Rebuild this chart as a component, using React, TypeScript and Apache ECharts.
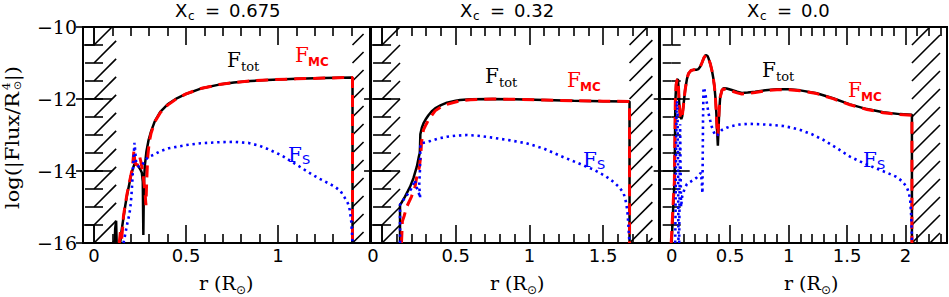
import React, { useEffect, useRef } from "react";
import * as echarts from "echarts";

// ---------------- data (r in R_sun, value = log|Flux/R^4|) ----------------
const yRange = [-16, -10];
const yMajorTicks = [-16, -14, -12, -10];
const yMinorTicks = [-16, -15.5, -15, -14.5, -14, -13.5, -13, -12.5, -12, -11.5, -11, -10.5, -10];
const hatchStep = 0.5;

const titles = ["0.675", "0.32", "0.0"];

const xRange1 = [-0.06, 1.5];
const xRange2 = [-0.075, 1.88];
const xRange3 = [-0.1, 2.355];

const xLabels1 = [0, 0.5, 1];
const xLabels2 = [0, 0.5, 1, 1.5];
const xLabels3 = [0, 0.5, 1, 1.5, 2];
const xMajor1 = [0, 0.5, 1, 1.5];
const xMajor2 = [0, 0.5, 1, 1.5];
const xMajor3 = [0, 0.5, 1, 1.5, 2];
const xMinor1 = [0.1, 0.2, 0.3, 0.4, 0.6, 0.7, 0.8, 0.9, 1.1, 1.2, 1.3, 1.4];
const xMinor2 = [0.1, 0.2, 0.3, 0.4, 0.6, 0.7, 0.8, 0.9, 1.1, 1.2, 1.3, 1.4, 1.6, 1.7, 1.8];
const xMinor3 = [0.1, 0.2, 0.3, 0.4, 0.6, 0.7, 0.8, 0.9, 1.1, 1.2, 1.3, 1.4, 1.6, 1.7, 1.8, 1.9, 2.1, 2.2, 2.3];

// hatched (excluded) radial zones [r0, r1]
const hatch1 = [[0, 0.12], [1.405, 1.465]];
const hatch2 = [[0, 0.122], [1.68, 1.835]];
const hatch3 = [[2.055, 2.295]];
// small corner boxes [r0, r1, y0, y1]
const boxes1 = [[-0.06, 0, -10.5, -10], [-0.06, 0, -16, -15.5]];
const boxes2 = [[-0.075, 0, -10.5, -10], [-0.075, 0, -16, -15.5]];
const boxes3: number[][] = [];

const fTot1: any[] = [
  [0.112, -16], [0.115, -15.6], [0.12, -15.38], [0.123, -16], [0.13, "-"],
  [0.142, -16], [0.15, -15.65], [0.16, -15.3], [0.17, -14.95], [0.18, -14.65], [0.19, -14.4],
  [0.2, -14.15], [0.21, -13.95], [0.218, -13.83], [0.224, -13.8], [0.232, -13.82], [0.242, -13.88],
  [0.252, -13.96], [0.26, -14.05], [0.265, -14.3], [0.268, -15.78], [0.271, -14.4], [0.276, -13.85],
  [0.285, -13.45], [0.296, -13.15], [0.31, -12.9], [0.33, -12.62], [0.36, -12.36], [0.4, -12.15],
  [0.45, -11.98], [0.5, -11.86], [0.58, -11.71], [0.68, -11.6], [0.76, -11.54], [0.85, -11.5],
  [0.94, -11.47], [1.1, -11.44], [1.25, -11.42], [1.405, -11.4], [1.405, -16],
];
const fMC1: any[] = [
  [0.137, -16], [0.143, -15.7], [0.15, -15.9], [0.155, -15.6], [0.16, -15.25], [0.17, -14.92],
  [0.18, -14.62], [0.19, -14.37], [0.2, -14.13], [0.208, -13.92], [0.214, -13.6], [0.217, -13.42],
  [0.221, -13.7], [0.228, -13.83], [0.236, -13.82], [0.243, -13.64], [0.249, -13.62], [0.255, -13.75],
  [0.262, -13.95], [0.27, -14.25], [0.278, -14.65], [0.282, -14.95], [0.286, -14.3], [0.292, -13.6],
  [0.3, -13.2], [0.31, -12.95], [0.33, -12.64], [0.36, -12.38], [0.4, -12.17], [0.45, -11.99],
  [0.5, -11.86], [0.58, -11.71], [0.68, -11.6], [0.76, -11.54], [0.85, -11.5], [0.94, -11.47],
  [1.1, -11.44], [1.25, -11.42], [1.405, -11.4], [1.405, -16],
];
const fS1: any[] = [
  [0.16, -16], [0.17, -15.75], [0.179, -15.5], [0.19, -15.25], [0.197, -15.04], [0.203, -14.7],
  [0.208, -14.3], [0.213, -13.8], [0.217, -13.45], [0.22, -13.22], [0.224, -13.45], [0.228, -13.72],
  [0.235, -13.85], [0.245, -13.88], [0.26, -13.85], [0.279, -13.69], [0.3, -13.6], [0.324, -13.55],
  [0.36, -13.45], [0.406, -13.37], [0.5, -13.28], [0.58, -13.23], [0.68, -13.2], [0.76, -13.19],
  [0.84, -13.22], [0.9, -13.3], [0.94, -13.38], [1.0, -13.52], [1.03, -13.6], [1.08, -13.76],
  [1.13, -13.92], [1.18, -14.08], [1.22, -14.2], [1.27, -14.33], [1.31, -14.44], [1.34, -14.56],
  [1.36, -14.72], [1.38, -14.9], [1.39, -15.08], [1.398, -15.4], [1.403, -15.8], [1.405, -16],
];

const fTot2: any[] = [
  [0.122, -16], [0.122, -14.94], [0.135, -14.86], [0.156, -14.71], [0.175, -14.56], [0.19, -14.44],
  [0.213, -14.2], [0.236, -13.88], [0.25, -13.6], [0.256, -13.5], [0.258, -13.3], [0.26, -12.98],
  [0.27, -12.8], [0.281, -12.68], [0.3, -12.54], [0.315, -12.45], [0.34, -12.33], [0.36, -12.26],
  [0.4, -12.17], [0.44, -12.1], [0.5, -12.05], [0.53, -12.03], [0.6, -12.01], [0.75, -12.0],
  [0.9, -12.01], [1.1, -12.03], [1.3, -12.05], [1.5, -12.06], [1.68, -12.07], [1.68, -16],
];
const fMC2: any[] = [
  [0.132, -16], [0.135, -15.7], [0.138, -15.4], [0.15, -15.25], [0.168, -14.99], [0.2, -14.71],
  [0.224, -14.44], [0.236, -14.15], [0.247, -14.0], [0.254, -13.88], [0.263, -13.56], [0.268, -13.2],
  [0.281, -12.86], [0.3, -12.7], [0.315, -12.58], [0.36, -12.33], [0.4, -12.22], [0.44, -12.15],
  [0.53, -12.05], [0.6, -12.02], [0.75, -12.0], [0.9, -12.01], [1.1, -12.03], [1.3, -12.05],
  [1.5, -12.06], [1.68, -12.07], [1.68, -16],
];
const fS2: any[] = [
  [0.122, -16], [0.122, -14.94], [0.14, -14.83], [0.163, -14.71], [0.18, -14.6], [0.197, -14.5],
  [0.212, -14.36], [0.222, -14.25], [0.235, -14.45], [0.25, -14.62], [0.259, -14.75], [0.252, -14.4],
  [0.257, -14.0], [0.259, -13.6], [0.26, -13.25], [0.275, -13.22], [0.3, -13.2], [0.327, -13.17],
  [0.38, -13.1], [0.44, -13.05], [0.5, -13.02], [0.576, -13.0], [0.65, -13.02], [0.76, -13.08],
  [0.87, -13.15], [0.98, -13.23], [1.1, -13.38], [1.21, -13.58], [1.33, -13.78], [1.44, -13.97],
  [1.52, -14.15], [1.57, -14.3], [1.61, -14.45], [1.64, -14.62], [1.655, -14.85], [1.665, -15.1],
  [1.672, -15.5], [1.678, -15.9], [1.68, -16],
];

const fTot3: any[] = [
  [0.0, -16], [0.01, -15.2], [0.018, -14.7], [0.024, -14.3], [0.028, -13.2], [0.031, -12.1],
  [0.038, -11.6], [0.047, -11.47], [0.053, -11.45], [0.058, -11.65], [0.064, -12.1], [0.072, -12.45],
  [0.082, -12.56], [0.09, -12.48], [0.1, -12.2], [0.115, -11.75], [0.13, -11.45], [0.144, -11.29],
  [0.165, -11.21], [0.186, -11.19], [0.21, -11.19], [0.229, -11.17], [0.245, -11.1], [0.258, -11.0],
  [0.275, -10.86], [0.292, -10.78], [0.305, -10.8], [0.315, -10.87], [0.33, -11.02], [0.343, -11.19],
  [0.355, -11.4], [0.366, -11.66], [0.375, -12.0], [0.382, -12.4], [0.388, -12.85], [0.395, -13.3],
  [0.4, -12.9], [0.407, -12.3], [0.415, -11.95], [0.43, -11.75], [0.443, -11.7], [0.47, -11.71],
  [0.514, -11.75], [0.56, -11.8], [0.6, -11.83], [0.65, -11.82], [0.714, -11.8], [0.8, -11.76],
  [0.9, -11.73], [1.0, -11.73], [1.1, -11.76], [1.24, -11.84], [1.38, -11.98], [1.525, -12.15],
  [1.67, -12.28], [1.81, -12.37], [1.95, -12.42], [2.055, -12.44], [2.055, -16],
];
const fMC3: any[] = [
  [-0.004, -16], [0.008, -15.2], [0.016, -14.7], [0.023, -14.3], [0.027, -13.2], [0.031, -12.1],
  [0.038, -11.6], [0.047, -11.47], [0.053, -11.45], [0.058, -11.65], [0.064, -12.1], [0.072, -12.45],
  [0.082, -12.56], [0.09, -12.48], [0.1, -12.2], [0.115, -11.75], [0.13, -11.45], [0.144, -11.29],
  [0.165, -11.21], [0.186, -11.19], [0.21, -11.19], [0.229, -11.17], [0.245, -11.1], [0.258, -11.0],
  [0.275, -10.86], [0.292, -10.78], [0.305, -10.8], [0.315, -10.87], [0.33, -11.02], [0.343, -11.19],
  [0.355, -11.4], [0.366, -11.66], [0.375, -12.0], [0.382, -12.4], [0.389, -12.85], [0.394, -13.02],
  [0.4, -12.7], [0.407, -12.25], [0.415, -11.95], [0.43, -11.76], [0.443, -11.72], [0.47, -11.74],
  [0.514, -11.78], [0.56, -11.83], [0.6, -11.86], [0.65, -11.85], [0.714, -11.82], [0.8, -11.77],
  [0.9, -11.74], [1.0, -11.74], [1.1, -11.77], [1.24, -11.85], [1.38, -11.99], [1.525, -12.16],
  [1.67, -12.29], [1.81, -12.38], [1.95, -12.43], [2.055, -12.45], [2.055, -16],
];
const fS3: any[] = [
  [0.03, -16], [0.034, -14.8], [0.038, -13.3], [0.042, -12.3], [0.046, -12.05], [0.05, -12.4],
  [0.054, -13.8], [0.058, -16], [0.062, "-"], [0.064, -16], [0.068, -14.4], [0.072, -12.7],
  [0.076, -13.9], [0.08, -15.0], [0.09, -14.7], [0.11, -14.5], [0.13, -14.36], [0.16, -14.3],
  [0.19, -14.24], [0.215, -14.18], [0.235, -14.1], [0.25, -14.05], [0.258, -14.35], [0.263, -14.62],
  [0.265, -13.8], [0.268, -12.6], [0.272, -11.72], [0.277, -11.68], [0.285, -11.82], [0.292, -11.94],
  [0.303, -12.15], [0.315, -12.4], [0.33, -12.6], [0.343, -12.77], [0.36, -12.92], [0.372, -13.0],
  [0.386, -13.03], [0.4, -12.97], [0.43, -12.86], [0.47, -12.8], [0.514, -12.75], [0.58, -12.71],
  [0.656, -12.69], [0.75, -12.7], [0.85, -12.72], [0.955, -12.75], [1.03, -12.8], [1.1, -12.86],
  [1.2, -12.98], [1.3, -13.14], [1.41, -13.36], [1.525, -13.6], [1.64, -13.78], [1.75, -13.93],
  [1.85, -14.06], [1.92, -14.16], [1.97, -14.28], [2.01, -14.44], [2.03, -14.62], [2.04, -14.8],
  [2.048, -15.2], [2.053, -15.6], [2.055, -16],
];

// ---------------- layout ----------------
const GRID_TOP = 27;
const GRID_H = 216;
const layout = [
  { left: 83, width: 287, title: 175, xname: 227 },
  { left: 371, width: 288, title: 460, xname: 518 },
  { left: 660, width: 287, title: 747, xname: 812 },
];
const fLabelPos = [
  { tot: [227, 60], mc: [295, 55], s: [288, 155] },
  { tot: [485, 76], mc: [567, 80], s: [583, 160] },
  { tot: [762, 70], mc: [848, 90], s: [863, 160] },
];

const panels = [
  { xr: xRange1, xl: xLabels1, xM: xMajor1, xm: xMinor1, hatch: hatch1, boxes: boxes1, tot: fTot1, mc: fMC1, s: fS1 },
  { xr: xRange2, xl: xLabels2, xM: xMajor2, xm: xMinor2, hatch: hatch2, boxes: boxes2, tot: fTot2, mc: fMC2, s: fS2 },
  { xr: xRange3, xl: xLabels3, xM: xMajor3, xm: xMinor3, hatch: hatch3, boxes: boxes3, tot: fTot3, mc: fMC3, s: fS3 },
];

const INK = "#000";
const RED = "#ff0000";
const BLUE = "#0000ff";
const SERIF = '"DejaVu Serif", "Liberation Serif", serif';
const SANS = '"DejaVu Sans", "Liberation Sans", sans-serif';

function hatchRender(params: any, api: any) {
  const x0 = api.value(0);
  const x1 = api.value(1);
  const p0 = api.coord([x0, yRange[0]]);
  const p1 = api.coord([x1, yRange[1]]);
  const pStep = api.coord([x0, yRange[0] + hatchStep]);
  const left = p0[0], right = p1[0], bottom = p0[1], top = p1[1];
  const s = Math.abs(bottom - pStep[1]);
  const w = right - left;
  const H = bottom - top;
  const children: any[] = [];
  for (let k = -Math.ceil(w / s) - 1; k <= Math.floor(H / s) + 1; k++) {
    const tmin = Math.max(0, -k * s);
    const tmax = Math.min(w, H - k * s);
    if (tmax - tmin < 0.5) continue;
    children.push({
      type: "line",
      shape: { x1: left + tmin, y1: bottom - k * s - tmin, x2: left + tmax, y2: bottom - k * s - tmax },
      style: { stroke: INK, lineWidth: 1.6 },
    });
  }
  return { type: "group", children };
}

function boxRender(params: any, api: any) {
  const a = api.coord([api.value(0), api.value(3)]);
  const b = api.coord([api.value(1), api.value(2)]);
  return {
    type: "rect",
    shape: { x: a[0], y: a[1], width: b[0] - a[0], height: b[1] - a[1] },
    style: { fill: "none", stroke: INK, lineWidth: 1.6 },
  };
}

const txt = (x: number, y: number, text: string, font: string, fill = INK, align = "left") => ({
  type: "text",
  x,
  y,
  silent: true,
  style: { text, font, fill, align, verticalAlign: "middle" },
});

function buildOption() {
  const grid: any[] = [];
  const xAxis: any[] = [];
  const yAxis: any[] = [];
  const series: any[] = [];
  const graphic: any[] = [];

  panels.forEach((p, i) => {
    const L = layout[i];
    grid.push({
      left: L.left, top: GRID_TOP, width: L.width, height: GRID_H,
      show: true, borderColor: INK, borderWidth: 2, backgroundColor: "rgba(0,0,0,0)",
    });
    const tickStyle = { color: INK, width: 1.6 };
    const baseX = {
      type: "value", gridIndex: i, min: p.xr[0], max: p.xr[1],
      axisLine: { show: false }, splitLine: { show: false }, axisLabel: { show: false },
    };
    const xi = xAxis.length;
    xAxis.push({
      ...baseX, position: "bottom",
      axisTick: { show: true, inside: true, length: 18, customValues: p.xM, lineStyle: tickStyle },
      axisLabel: {
        show: true, customValues: p.xl, margin: 3, color: INK, fontSize: 18, fontFamily: SANS,
        formatter: (v: number) => (i === 1 && v === 0 ? "{z|0}" : String(v)),
        rich: { z: { padding: [0, 18, 0, 0], fontSize: 18, fontFamily: SANS, color: INK } },
      },
    });
    xAxis.push({ ...baseX, position: "bottom", axisTick: { show: true, inside: true, length: 9, customValues: p.xm, lineStyle: tickStyle } });
    xAxis.push({ ...baseX, position: "top", axisTick: { show: true, inside: true, length: 18, customValues: p.xM, lineStyle: tickStyle } });
    xAxis.push({ ...baseX, position: "top", axisTick: { show: true, inside: true, length: 9, customValues: p.xm, lineStyle: tickStyle } });

    const baseY = {
      type: "value", gridIndex: i, min: yRange[0], max: yRange[1],
      axisLine: { show: false }, splitLine: { show: false }, axisLabel: { show: false },
    };
    const yi = yAxis.length;
    yAxis.push({
      ...baseY, position: "left",
      axisTick: { show: true, inside: true, length: 18, customValues: yMajorTicks, lineStyle: tickStyle },
      axisLabel: {
        show: i === 0, customValues: yMajorTicks, margin: 6, color: INK, fontSize: 19, fontFamily: SERIF,
        formatter: (v: number) => (v < 0 ? "\u2212" + String(-v) : String(v)),
      },
    });
    yAxis.push({ ...baseY, position: "left", axisTick: { show: true, inside: true, length: 9, customValues: yMinorTicks, lineStyle: tickStyle } });
    yAxis.push({ ...baseY, position: "right", axisTick: { show: true, inside: true, length: 18, customValues: yMajorTicks, lineStyle: tickStyle } });
    yAxis.push({ ...baseY, position: "right", axisTick: { show: true, inside: true, length: 9, customValues: yMinorTicks, lineStyle: tickStyle } });

    series.push({
      type: "custom", xAxisIndex: xi, yAxisIndex: yi, renderItem: hatchRender, data: p.hatch,
      clip: true, silent: true, z: 1, encode: { x: [0, 1] },
    });
    if (p.boxes.length) {
      series.push({
        type: "custom", xAxisIndex: xi, yAxisIndex: yi, renderItem: boxRender, data: p.boxes,
        clip: true, silent: true, z: 1, encode: { x: [0, 1], y: [2, 3] },
      });
    }
    series.push({
      type: "line", xAxisIndex: xi, yAxisIndex: yi, data: p.tot, symbol: "none", silent: true, z: 2,
      lineStyle: { color: INK, width: 2.5 },
    });
    series.push({
      type: "line", xAxisIndex: xi, yAxisIndex: yi, data: p.mc, symbol: "none", silent: true, z: 3,
      lineStyle: { color: RED, width: 3, type: [12, 7] },
    });
    series.push({
      type: "line", xAxisIndex: xi, yAxisIndex: yi, data: p.s, symbol: "none", silent: true, z: 4,
      lineStyle: { color: BLUE, width: 2.6, type: [2.4, 3.8] },
    });

    // panel title  X_c = ...
    graphic.push(txt(L.title, 10, "X", "18px " + SANS));
    graphic.push(txt(L.title + 13, 15.5, "c", "12px " + SANS));
    graphic.push(txt(L.title + 30, 10, "=", "18px " + SANS));
    graphic.push(txt(L.title + 54, 10, titles[i], "18px " + SANS));

    // x axis name  r (R_sun)
    const xn = L.xname - 28;
    graphic.push(txt(xn, 283, "r (R", "19px " + SERIF));
    graphic.push(txt(xn + 37, 290, "\u2299", "12px " + SANS));
    graphic.push(txt(xn + 47, 283, ")", "19px " + SERIF));

    // curve labels
    const F = fLabelPos[i];
    graphic.push(txt(F.tot[0], F.tot[1], "F", "20px " + SERIF, INK));
    graphic.push(txt(F.tot[0] + 14, F.tot[1] + 6, "tot", "13px " + SERIF, INK));
    graphic.push(txt(F.mc[0], F.mc[1], "F", "20px " + SERIF, RED));
    graphic.push(txt(F.mc[0] + 13, F.mc[1] + 7, "MC", "bold 12px " + SANS, RED));
    graphic.push(txt(F.s[0], F.s[1], "F", "20px " + SERIF, BLUE));
    graphic.push(txt(F.s[0] + 14, F.s[1] + 4, "S", "13px " + SANS, BLUE));
  });

  // y axis name, rotated
  graphic.push({
    type: "group",
    x: 12,
    y: 138,
    rotation: Math.PI / 2,
    scaleX: 1.1,
    silent: true,
    children: [
      txt(-64.5, 0, "log(|Flux/R", "19px " + SERIF),
      txt(43.5, -6, "4", "11px " + SERIF),
      txt(43.5, 5, "\u2299", "10px " + SANS),
      txt(51.5, 0, "|)", "19px " + SERIF),
    ],
  });

  return {
    animation: false,
    backgroundColor: "#fff",
    grid,
    xAxis,
    yAxis,
    series,
    graphic: { elements: graphic },
  };
}

export default function App() {
  const ref = useRef<HTMLDivElement>(null);
  useEffect(() => {
    const chart = echarts.init(ref.current as HTMLDivElement, null, { renderer: "svg", width: 949, height: 297 });
    chart.setOption(buildOption() as any);
    return () => chart.dispose();
  }, []);
  return (
    <div
      ref={ref}
      style={{ position: "absolute", left: 0, top: 0, width: 949, height: 297, background: "#fff" }}
    />
  );
}
